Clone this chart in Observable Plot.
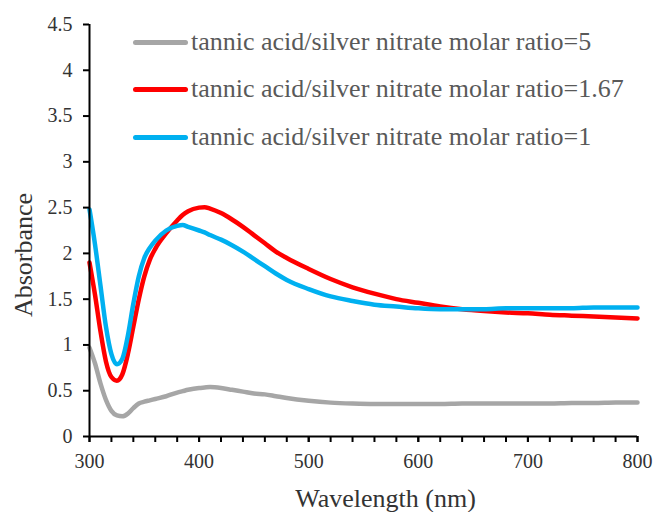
<!DOCTYPE html>
<html><head><meta charset="utf-8">
<script src="https://cdn.jsdelivr.net/npm/d3@7"></script>
<script src="https://cdn.jsdelivr.net/npm/@observablehq/plot@0.6"></script>
<style>
body{margin:0;background:#fff;}
#wrap{position:relative;width:655px;height:512px;overflow:hidden;background:#fff;}
.leg{position:absolute;left:133px;height:30px;display:flex;align-items:center;font-family:'Liberation Serif',serif;font-size:26px;color:#595959;white-space:nowrap;}
.leg span.sw{display:inline-block;width:55px;height:5px;border-radius:2.5px;margin-right:3px;}
#ytitle{position:absolute;left:24px;top:255px;transform:translate(-50%,-50%) rotate(-90deg);font-family:'Liberation Serif',serif;font-size:26px;line-height:26px;color:#333;white-space:nowrap;}
</style></head><body><div id="wrap"><div id="ytitle"></div></div>
<script>
const wavelengths = [300,305,310,315,320,325,330,335,340,345,350,355,360,370,380,385,390,400,405,410,420,430,440,450,460,470,480,500,520,540,560,580,600,620,640,660,680,700,720,740,760,780,800];
const absRatio5   = [0.97,0.80,0.58,0.40,0.28,0.23,0.22,0.25,0.31,0.36,0.38,0.395,0.41,0.44,0.48,0.495,0.51,0.53,0.535,0.54,0.53,0.51,0.49,0.47,0.46,0.44,0.42,0.39,0.37,0.36,0.355,0.355,0.355,0.355,0.36,0.36,0.36,0.36,0.36,0.365,0.365,0.37,0.37];
const absRatio167 = [1.90,1.55,1.15,0.82,0.65,0.61,0.68,0.90,1.20,1.50,1.75,1.93,2.05,2.22,2.36,2.42,2.46,2.50,2.505,2.49,2.44,2.37,2.29,2.20,2.11,2.02,1.95,1.83,1.72,1.63,1.56,1.50,1.46,1.42,1.39,1.37,1.355,1.345,1.33,1.32,1.31,1.30,1.29];
const absRatio1   = [2.48,2.10,1.65,1.20,0.90,0.79,0.85,1.10,1.45,1.75,1.95,2.06,2.14,2.25,2.30,2.31,2.29,2.25,2.23,2.20,2.15,2.09,2.02,1.94,1.86,1.78,1.71,1.61,1.53,1.48,1.44,1.42,1.40,1.39,1.39,1.39,1.40,1.40,1.40,1.40,1.41,1.41,1.41];
const seriesNames = ["tannic acid/silver nitrate molar ratio=5","tannic acid/silver nitrate molar ratio=1.67","tannic acid/silver nitrate molar ratio=1"];
const seriesColors = ["#A6A6A6","#FF0000","#00B0F0"];
const xTickLabels = [300,400,500,600,700,800];
const xMinorTicks = d3.range(300,801,20);
const yTickLabels = [0,0.5,1,1.5,2,2.5,3,3.5,4,4.5];
const xTitle = "Wavelength (nm)";
const yTitle = "Absorbance";

const seriesValues = [absRatio5, absRatio167, absRatio1];
const table = seriesValues.map((vals, s) => wavelengths.map((w, i) => ({w, a: vals[i], s: seriesNames[s]})));
const serif = "'Liberation Serif', serif";

const chart = Plot.plot({
  width: 655, height: 512,
  marginLeft: 89, marginRight: 18, marginTop: 24, marginBottom: 76,
  x: {domain: [300, 800]},
  y: {domain: [0, 4.5]},
  style: {fontFamily: serif, fontSize: "20px", color: "black", background: "white"},
  marks: [
    ...table.map((d, s) => Plot.line(d, {x: "w", y: "a", stroke: seriesColors[s], strokeWidth: 4.5, curve: "monotone-x"})),
    Plot.ruleX([300], {stroke: "black", strokeWidth: 2}),
    Plot.ruleY([0], {stroke: "black", strokeWidth: 2}),
    Plot.axisX({ticks: xMinorTicks, tickSize: 6, text: null, label: null, strokeWidth: 2}),
    Plot.axisX({ticks: xTickLabels, tickSize: 6, tickPadding: 11, label: null, fontSize: 20, fontFamily: serif, strokeWidth: 2, fill: "#333"}),
    Plot.axisY({ticks: yTickLabels, tickSize: 6, tickPadding: 11, tickFormat: d => String(d), label: null, fontSize: 20, fontFamily: serif, strokeWidth: 2, fill: "#333"}),
    Plot.text([xTitle], {frameAnchor: "bottom", dx: 22, dy: 70, fontSize: 26, fill: "#333", fontFamily: serif})
  ]
});
const wrap = document.getElementById("wrap");
wrap.appendChild(chart);
document.getElementById("ytitle").textContent = yTitle;
const legendCenters = [42, 89, 137];
seriesNames.forEach((n, i) => {
  const row = document.createElement("div");
  row.className = "leg";
  row.style.top = (legendCenters[i] - 15) + "px";
  row.innerHTML = `<span class="sw" style="background:${seriesColors[i]}"></span><span>${n}</span>`;
  wrap.appendChild(row);
});
</script></body></html>
